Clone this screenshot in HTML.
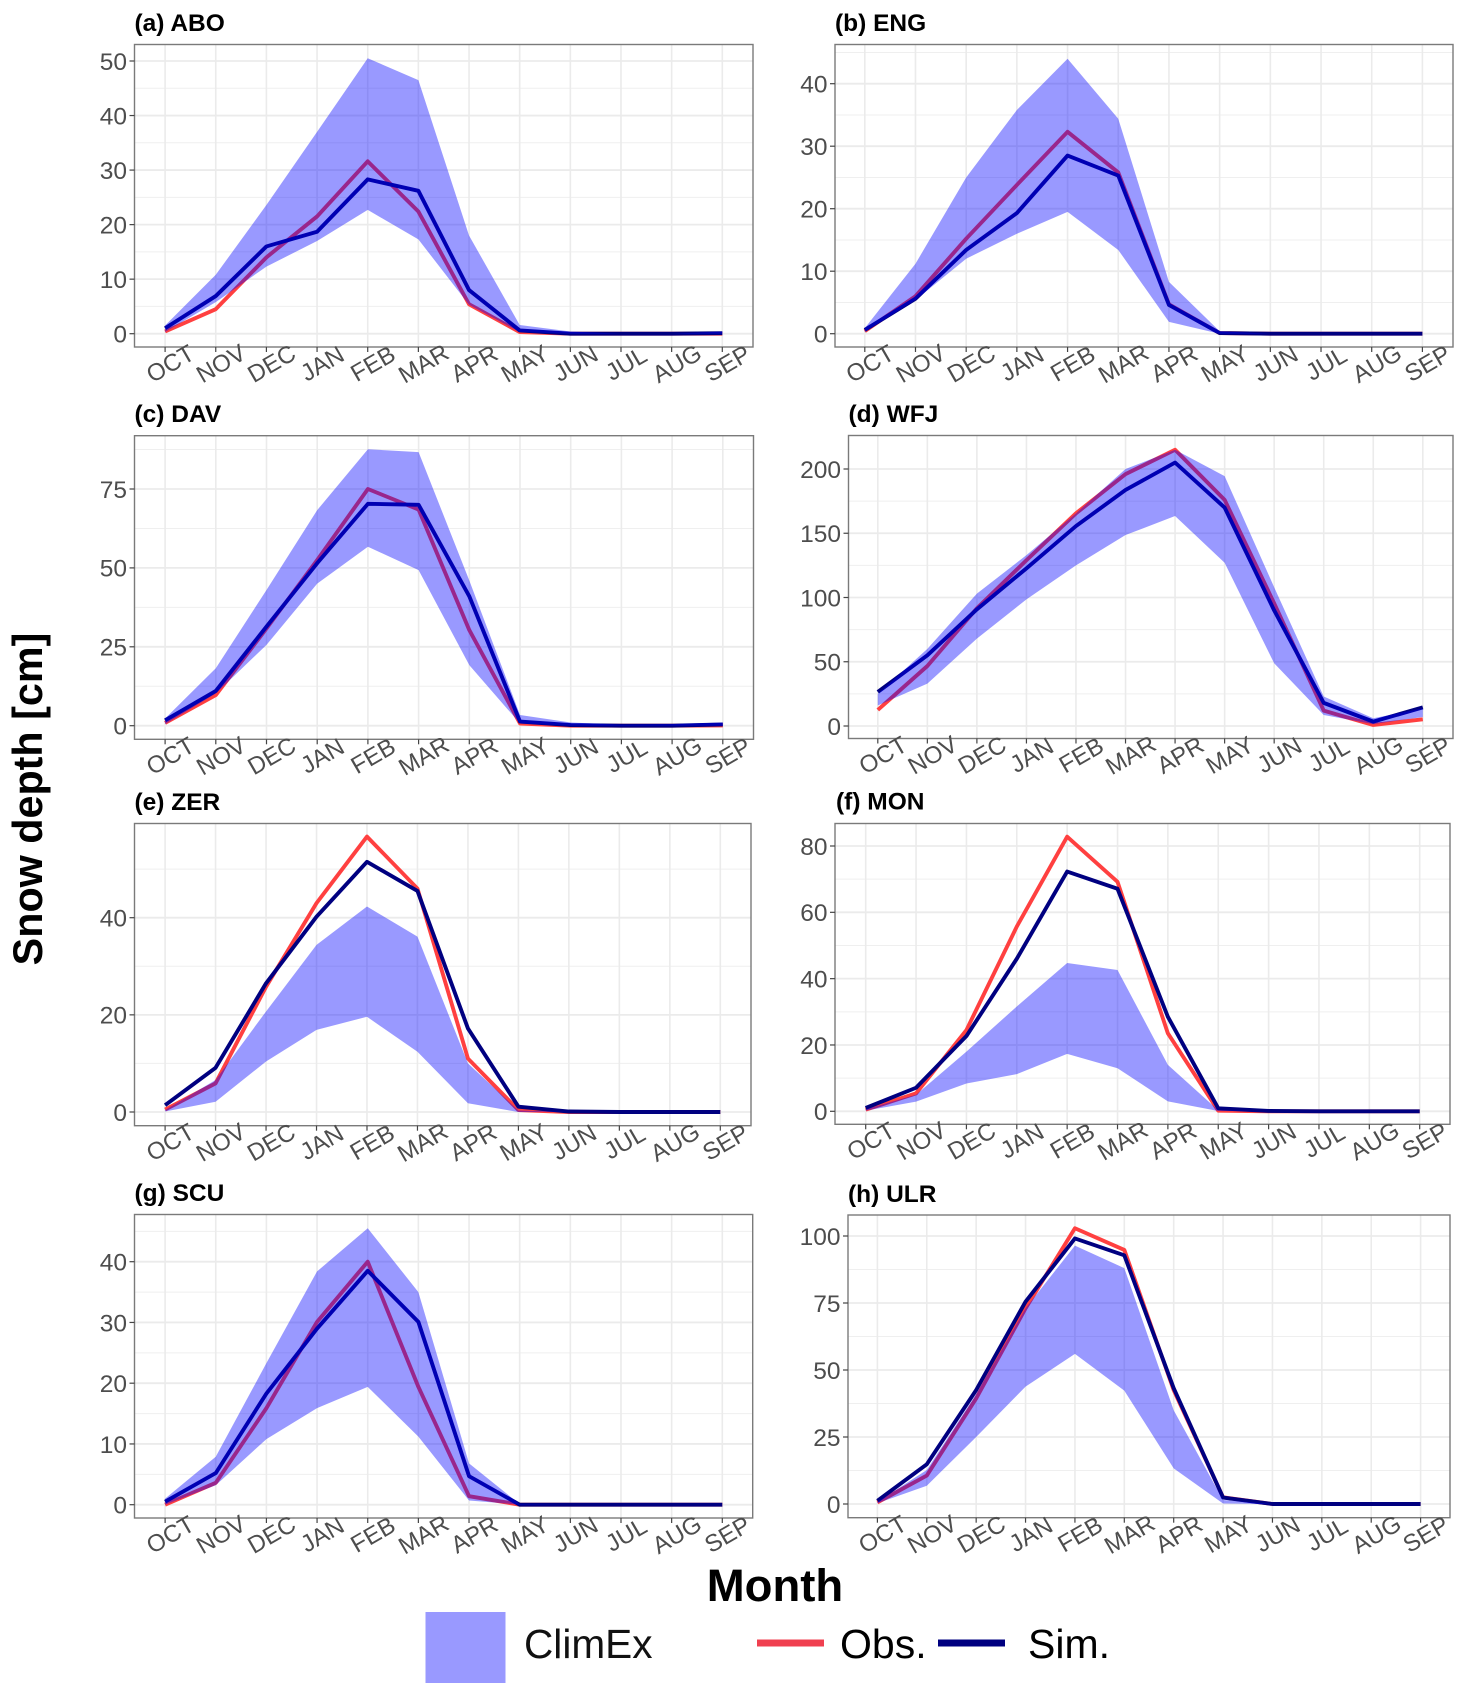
<!DOCTYPE html>
<html lang="en">
<head>
<meta charset="utf-8">
<title>Snow depth climatology panels</title>
<style>
html,body{margin:0;padding:0;background:#fff;}
svg{display:block;font-family:"Liberation Sans",Arial,sans-serif;}
</style>
</head>
<body>
<svg id="chart" xmlns="http://www.w3.org/2000/svg" width="1468" height="1697" viewBox="0 0 1468 1697">
  <rect x="0" y="0" width="1468" height="1697" fill="#ffffff"/>
  <g id="panels"></g>
  <text transform="translate(42,799) rotate(-90)" text-anchor="middle" font-size="41.3" font-weight="700" fill="#000">Snow depth [cm]</text>
  <text x="775" y="1601" text-anchor="middle" font-size="45.5" font-weight="700" fill="#000">Month</text>
  <g>
    <rect x="425.5" y="1612" width="80" height="71" fill="#9999ff"/>
    <text x="524" y="1658" font-size="40.6" fill="#111">ClimEx</text>
    <line x1="757" y1="1643" x2="824" y2="1643" stroke="#f04050" stroke-width="7"/>
    <text x="840" y="1658" font-size="41" fill="#000">Obs.</text>
    <line x1="938" y1="1643" x2="1005" y2="1643" stroke="#000080" stroke-width="7"/>
    <text x="1028" y="1658" font-size="41" fill="#000">Sim.</text>
  </g>
</svg>
<script>
const monthLabelsOct = ["OCT","NOV","DEC","JAN","FEB","MAR","APR","MAY","JUN","JUL","AUG","SEP"];

const aboUpper = [1.5,10.8,23.6,37,50.5,46.5,18,1.6,0.4,0,0,0.4];
const aboLower = [0.3,5.8,12.3,17,22.7,17.3,5.3,0.3,0,0,0,0];
const aboObs   = [0.4,4.5,14,21.5,31.6,22.4,5.4,0.3,0,0,0,0];
const aboSim   = [1,6.9,16,18.7,28.3,26.2,8,0.6,0,0,0,0.1];
const aboTicks = [0,10,20,30,40,50];

const engUpper = [0.9,11.2,25,35.8,44,34.4,8.3,0.4,0,0,0,0];
const engLower = [0.3,5.4,12,16,19.5,13.4,1.9,0,0,0,0,0];
const engObs   = [0.4,6,15.2,23.8,32.3,25.8,4.7,0.1,0,0,0,0];
const engSim   = [0.6,5.6,13.4,19.3,28.5,25.3,4.6,0.1,0,0,0,0];
const engTicks = [0,10,20,30,40];

const davUpper = [2.3,18.2,43,68.3,87.6,86.7,46,3.4,1,0.3,0.5,1];
const davLower = [0.5,10.2,25.6,45,56.7,49.3,19.2,0.7,0,0,0,0];
const davObs   = [0.9,9.7,30.8,52.5,75,68.5,30.3,0.7,0,0,0,0.1];
const davSim   = [1.7,11,31.4,51.5,70.3,70,41,1.3,0.2,0,0,0.4];
const davTicks = [0,25,50,75];

const wfjUpper = [25,60,103,133,165.5,200,215,194.5,108,23,6,13.7];
const wfjLower = [16,33,68,98.5,125,148.6,163.4,127,48.8,8.6,1.5,7];
const wfjObs   = [12.5,46.7,91.6,129,165.5,196,215,176,95.5,12,0.8,5.2];
const wfjSim   = [26.5,55,90.8,122.7,155.6,183.7,205,170,90,18,3.4,14.5];
const wfjTicks = [0,50,100,150,200];

const zerUpper = [0.4,6.6,20.7,34.4,42.3,36.1,10,0.3,0,0,0,0];
const zerLower = [0.1,2.1,10.4,16.9,19.6,12.4,1.8,0,0,0,0,0];
const zerObs   = [0.5,5.9,25.8,43,56.7,46,11,0.4,0,0,0,0];
const zerSim   = [1.4,9.1,26.5,40.2,51.5,45.5,17.2,1.1,0.1,0,0,0];
const zerTicks = [0,20,40];

const monUpper = [0.6,5,18,31.6,44.7,42.6,14,0.3,0,0,0,0];
const monLower = [0.2,2.9,8.4,11.2,17.3,13,3,0.1,0,0,0,0];
const monObs   = [0.5,5.4,24.5,55.7,82.8,69.2,23.5,0.2,0,0,0,0];
const monSim   = [1,7.1,22.7,46,72.3,67.1,28.5,0.9,0.1,0,0,0];
const monTicks = [0,20,40,60,80];

const scuUpper = [1,7.9,23.3,38.4,45.5,35,6.8,0.1,0,0,0,0];
const scuLower = [0,3.2,10.8,15.9,19.4,11.2,0.7,0,0,0,0,0];
const scuObs   = [0,3.6,15.9,30.1,40,19.4,1.4,0,0,0,0,0];
const scuSim   = [0.5,5.2,18.3,29,38.5,30.1,4.7,0,0,0,0,0];
const scuTicks = [0,10,20,30,40];

const ulrUpper = [0.8,12.7,41,73,96.4,88,35,1.5,0,0,0,0];
const ulrLower = [0.3,6.8,25,43.8,56,42.3,13.3,0.2,0,0,0,0];
const ulrObs   = [0.6,10.6,39.4,73,102.9,94.8,42.5,2.5,0,0,0,0];
const ulrSim   = [1.2,14.8,42.5,75.5,99.1,92.8,43.2,2.4,0,0,0,0];
const ulrTicks = [0,25,50,75,100];

const panels = [
  {key:"abo",title:"(a) ABO",tx:134.5,ty:31,left:134.5,right:753,top:44.5,bottom:347,xFirst:165.1,xLast:722.3,yZero:333.7,yRefVal:50,yRefPx:61,upper:aboUpper,lower:aboLower,obs:aboObs,sim:aboSim,ticks:aboTicks},
  {key:"eng",title:"(b) ENG",tx:835,ty:31,left:835,right:1453,top:44.5,bottom:347,xFirst:864.8,xLast:1422.4,yZero:333.7,yRefVal:40,yRefPx:83.7,upper:engUpper,lower:engLower,obs:engObs,sim:engSim,ticks:engTicks},
  {key:"dav",title:"(c) DAV",tx:134.5,ty:422,left:134.5,right:753.5,top:435.7,bottom:739.3,xFirst:165.1,xLast:722.8,yZero:725.7,yRefVal:75,yRefPx:489,upper:davUpper,lower:davLower,obs:davObs,sim:davSim,ticks:davTicks},
  {key:"wfj",title:"(d) WFJ",tx:848.5,ty:422,left:848.5,right:1453,top:435.5,bottom:738.5,xFirst:877.8,xLast:1422.8,yZero:726,yRefVal:200,yRefPx:469,upper:wfjUpper,lower:wfjLower,obs:wfjObs,sim:wfjSim,ticks:wfjTicks},
  {key:"zer",title:"(e) ZER",tx:134.5,ty:810,left:134.5,right:751,top:823.5,bottom:1125.7,xFirst:165.1,xLast:720.3,yZero:1112,yRefVal:40,yRefPx:917.7,upper:zerUpper,lower:zerLower,obs:zerObs,sim:zerSim,ticks:zerTicks},
  {key:"mon",title:"(f) MON",tx:836,ty:809.5,left:835,right:1450,top:823.5,bottom:1124.3,xFirst:865.7,xLast:1419.7,yZero:1111.3,yRefVal:80,yRefPx:846,upper:monUpper,lower:monLower,obs:monObs,sim:monSim,ticks:monTicks},
  {key:"scu",title:"(g) SCU",tx:134.5,ty:1201,left:134.5,right:752.7,top:1214.5,bottom:1518,xFirst:165.1,xLast:722.3,yZero:1504.7,yRefVal:40,yRefPx:1261.7,upper:scuUpper,lower:scuLower,obs:scuObs,sim:scuSim,ticks:scuTicks},
  {key:"ulr",title:"(h) ULR",tx:848,ty:1202,left:848,right:1450,top:1215,bottom:1517.7,xFirst:877.4,xLast:1420.6,yZero:1504,yRefVal:100,yRefPx:1236,upper:ulrUpper,lower:ulrLower,obs:ulrObs,sim:ulrSim,ticks:ulrTicks}
];

const SVG_NS = "http://www.w3.org/2000/svg";
const root = document.getElementById("panels");

function make(parent, tag, attrs, text) {
  const node = document.createElementNS(SVG_NS, tag);
  for (const k in attrs) node.setAttribute(k, attrs[k]);
  if (text !== undefined) node.textContent = text;
  parent.appendChild(node);
  return node;
}

function polyPoints(values, xScale, yScale) {
  return values.map((v, i) => xScale(i).toFixed(2) + "," + yScale(v).toFixed(2));
}

panels.forEach(function (p) {
  const xScale = i => p.xFirst + i * (p.xLast - p.xFirst) / (monthLabelsOct.length - 1);
  const yScale = v => p.yZero + (p.yRefPx - p.yZero) * v / p.yRefVal;

  const g = make(root, "g", {});
  
  

  const title = make(g, "text", {x: p.tx, y: p.ty, "font-size": 24.5, "font-weight": 700, fill: "#000"}, p.title);
  
  

  const step = p.ticks[1] - p.ticks[0];
  const minorValues = p.ticks.map(t => t + step / 2).filter(v => yScale(v) > p.top + 3);

  minorValues.forEach(function (v) {
    const minor = make(g, "line", {x1: p.left, x2: p.right, y1: yScale(v), y2: yScale(v), stroke: "#efefef", "stroke-width": 1});
    
    
  });
  p.ticks.forEach(function (v) {
    const major = make(g, "line", {x1: p.left, x2: p.right, y1: yScale(v), y2: yScale(v), stroke: "#ebebeb", "stroke-width": 1.8});
    
    
  });
  monthLabelsOct.forEach(function (m, i) {
    const vGrid = make(g, "line", {x1: xScale(i), x2: xScale(i), y1: p.top, y2: p.bottom, stroke: "#ebebeb", "stroke-width": 1.6});
    
    
  });

  const obsLine = make(g, "polyline", {points: polyPoints(p.obs, xScale, yScale).join(" "), fill: "none", stroke: "#ff4040", "stroke-width": 3.9, "stroke-linejoin": "round"});
  
  

  const simLine = make(g, "polyline", {points: polyPoints(p.sim, xScale, yScale).join(" "), fill: "none", stroke: "#000080", "stroke-width": 3.9, "stroke-linejoin": "round"});
  
  

  const upperPts = polyPoints(p.upper, xScale, yScale);
  const lowerPts = polyPoints(p.lower, xScale, yScale).reverse();
  const ribbon = make(g, "polygon", {points: upperPts.concat(lowerPts).join(" "), fill: "#0000ff", "fill-opacity": 0.4});
  
  

  const border = make(g, "rect", {x: p.left, y: p.top, width: p.right - p.left, height: p.bottom - p.top, fill: "none", stroke: "#7a7a7a", "stroke-width": 1.4});
  
  

  p.ticks.forEach(function (v) {
    const tick = make(g, "line", {x1: p.left - 5, x2: p.left, y1: yScale(v), y2: yScale(v), stroke: "#444", "stroke-width": 1.2});
    
    
    const label = make(g, "text", {x: p.left - 7.5, y: yScale(v) + 8.8, "text-anchor": "end", "font-size": 24.5, fill: "#4d4d4d"}, String(v));
    
    
  });

  monthLabelsOct.forEach(function (m, i) {
    const tick = make(g, "line", {x1: xScale(i), x2: xScale(i), y1: p.bottom, y2: p.bottom + 5, stroke: "#444", "stroke-width": 1.2});
    
    
    const cx = xScale(i) + 5;
    const cy = p.bottom + 16.2;
    const label = make(g, "text", {transform: "translate(" + cx.toFixed(2) + "," + cy.toFixed(2) + ") rotate(-30)", y: 8.6, "text-anchor": "middle", "font-size": 24, fill: "#4d4d4d"}, m);
    
    
  });
});
</script>
</body>
</html>
